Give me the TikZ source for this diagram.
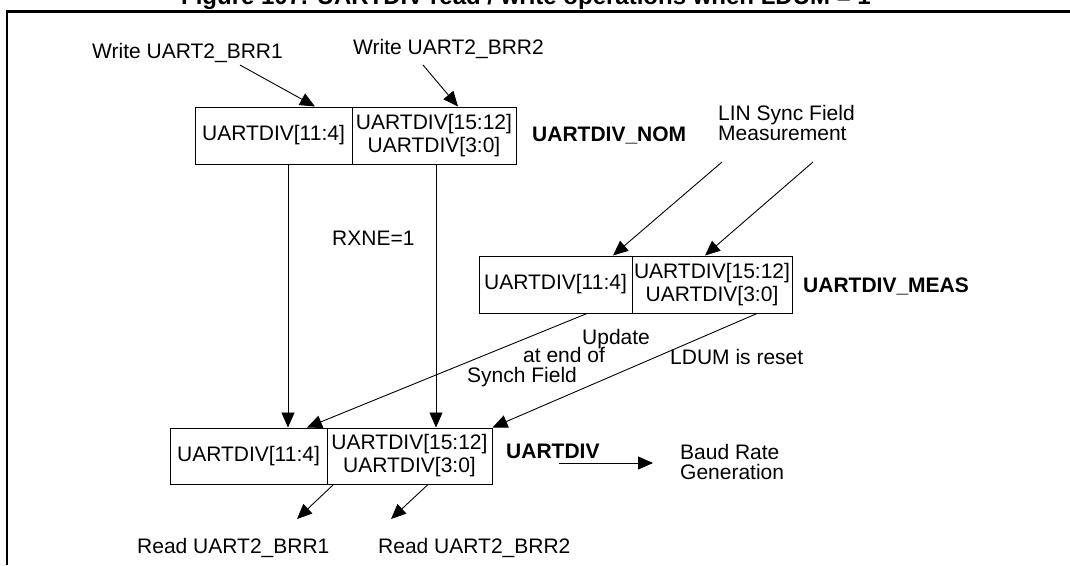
\documentclass[tikz,border=0pt]{standalone}
\usepackage{fontspec}
\setmainfont{Liberation Sans}
\usetikzlibrary{arrows.meta}
\begin{document}
\begin{tikzpicture}[x=1pt,y=-1pt,
  every node/.style={font=\fontsize{21}{23}\selectfont, inner sep=0pt},
  cell/.style={draw, line width=1pt, rectangle, minimum height=57pt, align=center},
  lbl/.style={anchor=base west},
  blbl/.style={anchor=base west, font=\fontsize{21}{23}\selectfont\bfseries},
  arr/.style={line width=0.9pt, -{Triangle[length=15pt,width=13pt]}},
  frame/.style={line width=2.2pt}
]
\useasboundingbox (0,0) rectangle (1070,565);
% frame and cut title
\draw[frame] (7,565) -- (7,11.5) -- (1075,11.5);
\node[anchor=base, font=\fontsize{24}{26}\selectfont\bfseries] (title) at (526,4) {Figure 107. UARTDIV read / write operations when LDUM = 1};

% UARTDIV_NOM register
\node[cell, minimum width=157pt] (nomL) at (273.5,135.5) {UARTDIV[11:4]};
\node[cell, minimum width=164pt] (nomR) at (434,135.5) {UARTDIV[15:12]\\UARTDIV[3:0]};
\node[blbl] (nomlbl) at (532,141) {UARTDIV\_NOM};

% UARTDIV_MEAS register
\node[cell, minimum width=153pt] (measL) at (555.5,284.5) {UARTDIV[11:4]};
\node[cell, minimum width=160pt] (measR) at (712,284.5) {UARTDIV[15:12]\\UARTDIV[3:0]};
\node[blbl] (measlbl) at (803,292) {UARTDIV\_MEAS};

% UARTDIV register
\node[cell, minimum width=157pt, minimum height=56pt] (mainL) at (248.5,456) {UARTDIV[11:4]};
\node[cell, minimum width=165pt, minimum height=56pt] (mainR) at (409.5,456) {UARTDIV[15:12]\\UARTDIV[3:0]};
\node[blbl] (mainlbl) at (506,458) {UARTDIV};

% text labels
\node[lbl] (w1) at (92,58) {Write UART2\_BRR1};
\node[lbl] (w2) at (353,54) {Write UART2\_BRR2};
\node[lbl] (lin1) at (718,120) {LIN Sync Field};
\node[lbl] (lin2) at (718,140) {Measurement};
\node[lbl] (rxne) at (332,245) {RXNE=1};
\node[lbl] (upd1) at (582,344) {Update};
\node[lbl] (upd2) at (523,362) {at end of};
\node[lbl] (upd3) at (467,382) {Synch Field};
\node[lbl] (ldum) at (670,364) {LDUM is reset};
\node[lbl] (baud1) at (680,459) {Baud Rate};
\node[lbl] (baud2) at (680,479) {Generation};
\node[lbl] (r1) at (137,553) {Read UART2\_BRR1};
\node[lbl] (r2) at (378,553) {Read UART2\_BRR2};

% free ends
\coordinate (w1s) at (240,65);
\coordinate (w2s) at (423,65);
\coordinate (lin1s) at (722,162);
\coordinate (lin2s) at (813,162);
\coordinate (baudS) at (559,463);
\coordinate (baudE) at (653,463);
\coordinate (r1e) at (297,519);
\coordinate (r2e) at (391,519);

% connectors
\draw[arr] (w1s) -- ([xshift=41.5pt]nomL.north);
\draw[arr] (w2s) -- ([xshift=24pt]nomR.north);
\draw[arr] ([xshift=14.5pt]nomL.south) -- ([xshift=14.5pt]nomL.south |- mainL.north);
\draw[arr] ([xshift=2pt]nomR.south) -- ([xshift=2pt]nomR.south |- mainR.north);
\draw[arr] (lin1s) -- ([xshift=57.5pt]measL.north);
\draw[arr] (lin2s) -- ([xshift=-7pt]measR.north);
\draw[arr] ([xshift=31.5pt]measL.south) -- ([xshift=58.5pt]mainL.north);
\draw[arr] ([xshift=45pt]measR.south) -- (mainR.north east);
\draw[arr] (baudS) -- (baudE);
\draw[arr] ([xshift=7pt]mainR.south west) -- (r1e);
\draw[arr] ([xshift=18.5pt]mainR.south) -- (r2e);
\end{tikzpicture}
\end{document}
